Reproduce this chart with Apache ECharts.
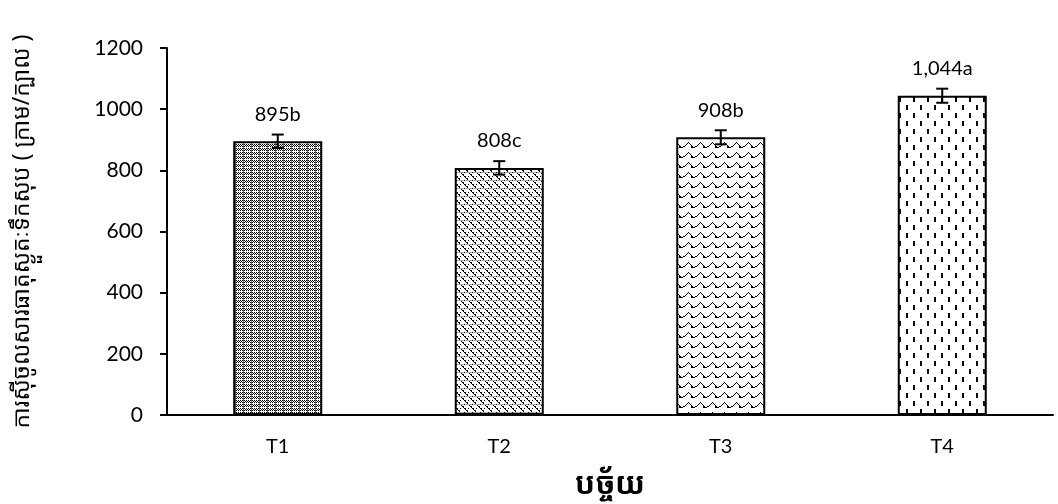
<!DOCTYPE html>
<html><head><meta charset="utf-8">
<script src="https://cdn.jsdelivr.net/npm/echarts@6/dist/echarts.min.js"></script>
<style>html,body{margin:0;padding:0;background:#fff}#c{width:1058px;height:504px}</style>
</head><body><div id="c"></div>
<script>
const categories = ['T1', 'T2', 'T3', 'T4'];
const values = [895, 808, 908, 1044];
const errors = [22, 22, 23, 23];
const letters = ['b', 'c', 'b', 'a'];
const yTicks = [0, 200, 400, 600, 800, 1000, 1200];
const xTitle = 'បច្ច័យ';
const yTitle = 'ការស៊ីចូលសារធាតុស្ងួតៈទឹកសុប ( ក្រាម/ក្បាល )';

function mk(w, h, draw) {
  const c = document.createElement('canvas'); c.width = w; c.height = h;
  const g = c.getContext('2d'); g.fillStyle = '#fff'; g.fillRect(0, 0, w, h);
  g.fillStyle = '#000'; draw(g); return c;
}
const pats = [
  mk(8, 8, g => { for (let y = 0; y < 8; y++) for (let x = 0; x < 8; x++) { if ((x + y) % 2 === 0 && y % 4 !== 3) g.fillRect(x, y, 1, 1); } g.fillStyle = '#666'; g.fillRect(3, 0, 1, 8); }),
  mk(8, 8, g => { for (let i = 0; i < 8; i++) { g.fillRect(i, i, 1, 1); if (i % 2 === 0) g.fillRect((i + 1) % 8, i, 1, 1); } g.fillStyle = '#aaa'; g.fillRect(0, 4, 8, 1); g.fillStyle = '#000'; g.fillRect(4, 0, 1, 1); g.fillRect(0, 4, 1, 1); }),
  mk(12, 10, g => { const pts = [[0,6],[1,5],[2,4],[3,3],[4,2],[5,3],[6,4],[7,5],[8,6],[9,7],[10,7],[11,6]]; pts.forEach(p => g.fillRect(p[0], p[1], 1, 1)); g.fillRect(7, 6, 2, 2); }),
  mk(14, 16, g => { g.fillRect(3, 1, 2, 5); g.fillRect(10, 9, 2, 5); })
];

const chart = echarts.init(document.getElementById('c'), null, { renderer: 'canvas' });
chart.setOption({
  animation: false,
  grid: { left: 167, top: 48, width: 886, height: 367, containLabel: false, outerBoundsMode: 'none' },
  xAxis: {
    type: 'category', data: categories,
    axisLine: { lineStyle: { color: '#000', width: 2 } },
    axisTick: { show: false },
    axisLabel: { color: '#000', fontSize: 20, fontFamily: 'Lato, "Open Sans", sans-serif', margin: 22 },
    name: xTitle, nameLocation: 'middle', nameGap: 55,
    nameTextStyle: { color: '#000', fontSize: 30, fontWeight: 'bold', fontFamily: '"Noto Sans Khmer", "Khmer OS", sans-serif' }
  },
  yAxis: {
    type: 'value', min: 0, max: 1200, interval: 200,
    axisLine: { show: true, lineStyle: { color: '#000', width: 2 } },
    axisTick: { show: true, length: 7, lineStyle: { color: '#000', width: 2 } },
    splitLine: { show: false },
    axisLabel: { color: '#000', fontSize: 21, fontFamily: 'Lato, "Open Sans", sans-serif', margin: 24,
      formatter: v => yTicks.indexOf(v) >= 0 ? String(v) : '' },
    name: yTitle, nameLocation: 'middle', nameRotate: 90, nameGap: 133,
    nameTextStyle: { color: '#000', fontSize: 23, fontFamily: '"Noto Sans Khmer", "Khmer OS", sans-serif' }
  },
  series: [
    {
      type: 'bar', barWidth: 89,
      data: values.map((v, i) => ({ value: v, itemStyle: { color: { image: pats[i], repeat: 'repeat' } } })),
      itemStyle: { borderColor: '#000', borderWidth: 2 },
      label: { show: true, position: 'top', distance: 17, color: '#000', fontSize: 20,
        fontFamily: 'Lato, "Open Sans", sans-serif',
        formatter: p => p.value.toLocaleString('en-US') + letters[p.dataIndex] },
      z: 2
    },
    {
      type: 'custom', z: 5,
      data: values.map((v, i) => [i, v, errors[i]]),
      renderItem: (params, api) => {
        const i = api.value(0), v = api.value(1), e = api.value(2);
        const hi = api.coord([i, v + e]), lo = api.coord([i, v - e]);
        const w = 6;
        const st = { stroke: '#000', lineWidth: 2 };
        return { type: 'group', children: [
          { type: 'line', shape: { x1: hi[0], y1: hi[1], x2: lo[0], y2: lo[1] }, style: st },
          { type: 'line', shape: { x1: hi[0] - w, y1: hi[1], x2: hi[0] + w, y2: hi[1] }, style: st },
          { type: 'line', shape: { x1: lo[0] - w, y1: lo[1], x2: lo[0] + w, y2: lo[1] }, style: st }
        ] };
      }
    }
  ]
});
</script></body></html>
